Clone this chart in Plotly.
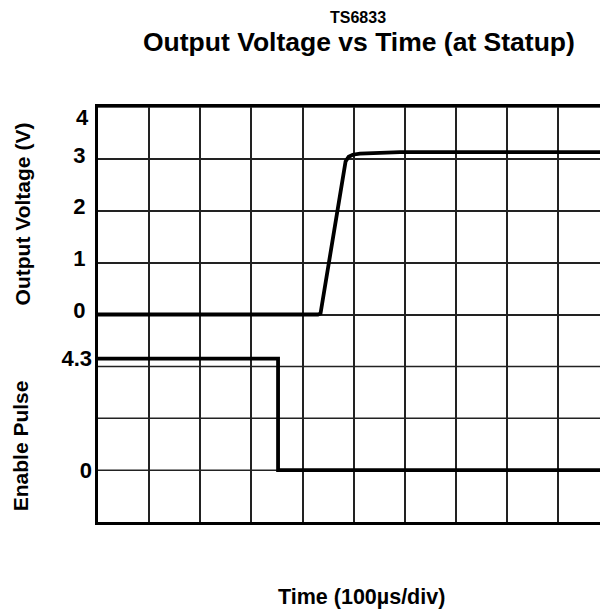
import plotly.graph_objects as go

# time in microseconds (100 us per division)
t_out = [0, 430, 435, 452, 468, 484, 490, 498, 512, 530, 551, 590, 1000]
v_out = [0, 0, 0.02, 1.0, 2.0, 2.95, 3.04, 3.08, 3.10, 3.11, 3.12, 3.13, 3.13]

t_en = [0, 352, 352, 1000]
v_en = [4.3, 4.3, 0, 0]

out_ticks = [0, 1, 2, 3]
en_ticks = [0, 4.3]
en_ticktext = ["0", "4.3"]

FONT = "Arial, Liberation Sans, sans-serif"

fig = go.Figure()
fig.add_trace(go.Scatter(x=t_out, y=v_out, mode="lines", yaxis="y",
                         line=dict(color="black", width=3.8), showlegend=False))
fig.add_trace(go.Scatter(x=t_en, y=v_en, mode="lines", yaxis="y2",
                         line=dict(color="black", width=3.8), showlegend=False))

# page body has an 8px margin, so the figure is 8px smaller than the window
fig.update_layout(
    width=600, height=603,
    margin=dict(l=90, r=0, t=99, b=89),
    plot_bgcolor="white", paper_bgcolor="white",
    font=dict(family=FONT, color="black", size=22),
    xaxis=dict(range=[0, 997], dtick=100, showticklabels=False, ticks="",
               showgrid=True, gridcolor="#222", gridwidth=1.5, zeroline=False,
               showline=True, linecolor="black", linewidth=3, mirror=True),
    yaxis=dict(range=[-4, 4], dtick=1, tickvals=out_ticks,
               ticktext=["<b>%d</b>" % v for v in out_ticks],
               ticks="", ticklabelshift=-4, ticklabelstandoff=5,
               showgrid=True, gridcolor="#222", gridwidth=1.5, zeroline=False,
               showline=True, linecolor="black", linewidth=3),
    yaxis2=dict(range=[-2, 14], overlaying="y", side="left",
                tickvals=en_ticks, ticktext=["<b>%s</b>" % s for s in en_ticktext],
                ticks="", ticklabelstandoff=5, showgrid=False, zeroline=False,
                showline=False),
)
# extra gridlines (tickvals above only label 0..3)
for v in [-3, -2, -1, 4]:
    fig.add_hline(y=v, line=dict(color="#222", width=1.5), layer="below")

# top label "4" sits a bit below the frame in the reference
fig.add_annotation(text="<b>4</b>", xref="paper", yref="y", x=0, xshift=-7, y=3.8,
                   xanchor="right", yanchor="middle", showarrow=False, font=dict(size=22))

fig.add_annotation(text="<b>TS6833</b>", xref="paper", yref="paper", x=0.5, xshift=5,
                   y=1, yshift=90, xanchor="center", yanchor="middle", showarrow=False,
                   font=dict(size=16))
fig.add_annotation(text="<b>Output Voltage vs Time (at Statup)</b>", xref="paper", yref="paper",
                   x=0.5, xshift=5.5, y=1, yshift=65.5, xanchor="center", yanchor="middle",
                   showarrow=False, font=dict(size=26.5))
fig.add_annotation(text="<b>Output Voltage (V)</b>", xref="paper", yref="y", x=0, xshift=-76,
                   y=1.93, xanchor="center", yanchor="middle", textangle=-90, showarrow=False,
                   font=dict(size=21))
fig.add_annotation(text="<b>Enable Pulse</b>", xref="paper", yref="y", x=0, xshift=-78,
                   y=-2.54, xanchor="center", yanchor="middle", textangle=-90, showarrow=False,
                   font=dict(size=21))
fig.add_annotation(text="<b>Time (100µs/div)</b>", xref="paper", yref="paper", x=0.5,
                   xshift=8.5, y=0, yshift=-75, xanchor="center", yanchor="middle",
                   showarrow=False, font=dict(size=21.5))

fig.write_html("out.html")
